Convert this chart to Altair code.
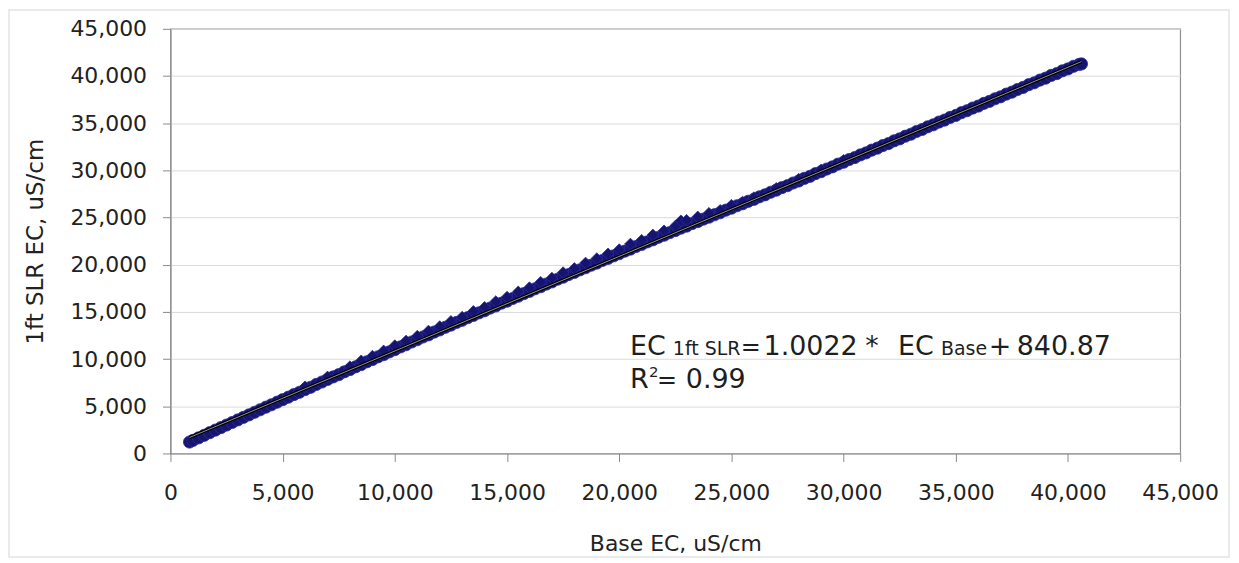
import altair as alt
import pandas as pd

# ---------------- data ----------------
base_ec = [850, 1000, 1250, 1500, 1750, 2000, 2250, 2500, 2750, 3000, 3250, 3500, 3750, 4000,
           4250, 4500, 4750, 5000, 5250, 5500, 5750, 6000, 6250, 6500, 6750, 7000, 7250, 7500,
           7750, 8000, 8250, 8500, 8750, 9000, 9250, 9500, 9750, 10000, 10250, 10500, 10750,
           11000, 11250, 11500, 11750, 12000, 12250, 12500, 12750, 13000, 13250, 13500, 13750,
           14000, 14250, 14500, 14750, 15000, 15250, 15500, 15750, 16000, 16250, 16500, 16750,
           17000, 17250, 17500, 17750, 18000, 18250, 18500, 18750, 19000, 19250, 19500, 19750,
           20000, 20250, 20500, 20750, 21000, 21250, 21500, 21750, 22000, 22250, 22500, 22750,
           23000, 23250, 23500, 23750, 24000, 24250, 24500, 24750, 25000, 25250, 25500, 25750,
           26000, 26250, 26500, 26750, 27000, 27250, 27500, 27750, 28000, 28250, 28500, 28750,
           29000, 29250, 29500, 29750, 30000, 30250, 30500, 30750, 31000, 31250, 31500, 31750,
           32000, 32250, 32500, 32750, 33000, 33250, 33500, 33750, 34000, 34250, 34500, 34750,
           35000, 35250, 35500, 35750, 36000, 36250, 36500, 36750, 37000, 37250, 37500, 37750,
           38000, 38250, 38500, 38750, 39000, 39250, 39500, 39750, 40000, 40250, 40500, 40600]
slr_ec = [1210, 1380, 1650, 1920, 2200, 2470, 2740, 3010, 3280, 3550, 3820, 4090, 4360, 4630,
          4900, 5160, 5430, 5700, 5960, 6240, 6480, 6770, 7010, 7310, 7570, 7840, 8110, 8350,
          8650, 8890, 9180, 9420, 9710, 9950, 10240, 10470, 10760, 11000, 11290, 11520, 11810,
          12050, 12340, 12570, 12860, 13090, 13370, 13600, 13880, 14110, 14390, 14620, 14900,
          15120, 15410, 15630, 15920, 16140, 16420, 16660, 16940, 17170, 17450, 17670, 17950,
          18180, 18460, 18680, 18960, 19180, 19460, 19680, 19950, 20170, 20450, 20670, 20940,
          21170, 21440, 21660, 21930, 22150, 22420, 22640, 22910, 23130, 23400, 23620, 23880,
          24090, 24360, 24570, 24830, 25040, 25300, 25510, 25780, 25990, 26250, 26460, 26720,
          26930, 27200, 27410, 27680, 27900, 28170, 28380, 28660, 28870, 29150, 29370, 29660,
          29860, 30140, 30370, 30660, 30860, 31150, 31360, 31640, 31850, 32140, 32350, 32630,
          32840, 33130, 33340, 33620, 33830, 34120, 34330, 34620, 34830, 35120, 35330, 35610,
          35820, 36110, 36320, 36600, 36810, 37100, 37310, 37590, 37800, 38080, 38290, 38570,
          38790, 39080, 39280, 39570, 39770, 40060, 40260, 40550, 40750, 41030, 41230, 41280]

# scattered high readings that form the ragged upper edge of the cloud
upper_base_ec = [6000, 7000, 8000, 8500, 9000, 9500, 10000, 10500, 11000, 11500, 12000, 12500,
                 13000, 13500, 14000, 14500, 15000, 15500, 16000, 16500, 17000, 17500, 18000,
                 18500, 19000, 19500, 20000, 20500, 21000, 21500, 22000, 22500, 22750, 23000,
                 23500, 24000, 24500, 25000, 25500, 26000, 27000, 28000, 29000, 30000]
upper_slr_ec = [7060, 8100, 9190, 9810, 10300, 10860, 11420, 11910, 12420, 12970, 13440,
                13990, 14440, 15050, 15480, 16090, 16560, 17120, 17560, 18140, 18580, 19160,
                19600, 20180, 20640, 21140, 21600, 22190, 22590, 23150, 23590, 24090, 24650,
                24710, 25060, 25450, 25750, 26300, 26640, 27100, 28080, 29060, 30040, 31060]

# linear trend line end points
trend_base = [850, 40600]
trend_slr = [1690, 41530]

axis_ticks = [0, 5000, 10000, 15000, 20000, 25000, 30000, 35000, 40000, 45000]

# equation annotation pieces: text, font size, horizontal offset (px)
eq_text = ["EC", "1ft SLR", "=", "1.0022", "*", "EC", "Base", "+", "840.87"]
eq_size = [27, 19, 24, 27, 27, 27, 19, 27, 27]
eq_dx = [0, 43, 111, 134, 236, 269, 312, 360, 388]
eq_anchor = {"x": 20480, "y": 10460}

r2_text = ["R", "2", "=", "0.99"]
r2_size = [27, 15, 24, 27]
r2_dx = [0, 19, 27, 56]
r2_dy = [0, -11, 0, 0]
r2_anchor = {"x": 20480, "y": 6980}

# ---------------- chart ----------------
AX_FONT = "DejaVu Sans"
EQ_FONT = "DejaVu Sans"

xscale = alt.Scale(domain=[0, 45000], nice=False, zero=False)
yscale = alt.Scale(domain=[0, 45000], nice=False, zero=False)

pts = pd.DataFrame({"base": base_ec, "slr": slr_ec})
up = pd.DataFrame({"base": upper_base_ec, "slr": upper_slr_ec})
trend = pd.DataFrame({"base": trend_base, "slr": trend_slr})

x_axis = alt.Axis(values=axis_ticks, format=",.0f", grid=False, title="Base EC, uS/cm",
                  labelFont=AX_FONT, labelFontSize=22, labelColor="#222222",
                  titleFont=AX_FONT, titleFontSize=22, titleFontWeight="normal",
                  titleColor="#222222", titlePadding=30, labelPadding=21,
                  tickSize=8, tickColor="#8a8a8a", domainColor="#8a8a8a",
                  labelFlush=False, labelOverlap=False)
y_axis = alt.Axis(values=axis_ticks, format=",.0f", grid=True, gridColor="#dadada",
                  title="1ft SLR EC, uS/cm",
                  labelFont=AX_FONT, labelFontSize=22, labelColor="#222222",
                  titleFont=AX_FONT, titleFontSize=23, titleFontWeight="normal",
                  titleColor="#222222", titlePadding=22, labelPadding=16,
                  tickSize=8, tickColor="#8a8a8a", domainColor="#8a8a8a",
                  labelFlush=False, labelOverlap=False)

frame = alt.Chart(pd.DataFrame({"k": [0]})).mark_rect(
    fill="transparent", stroke="#e4e4e4", strokeWidth=1.5
).encode(x=alt.value(-162), x2=alt.value(1062), y=alt.value(-19), y2=alt.value(530))

cloud = alt.Chart(pts).mark_point(
    shape="circle", filled=True, size=150, fill="#15156f", stroke="#2b2b9c",
    strokeWidth=0.8, opacity=1
).encode(
    x=alt.X("base:Q", scale=xscale, axis=x_axis),
    y=alt.Y("slr:Q", scale=yscale, axis=y_axis),
)

cloud_up = alt.Chart(up).mark_point(
    shape="diamond", filled=True, size=140, fill="#15156f", stroke="#2b2b9c",
    strokeWidth=0.8, opacity=1
).encode(
    x=alt.X("base:Q", scale=xscale),
    y=alt.Y("slr:Q", scale=yscale),
)

trend_dark = alt.Chart(trend).mark_line(color="#000000", strokeWidth=3.2).encode(
    x=alt.X("base:Q", scale=xscale), y=alt.Y("slr:Q", scale=yscale))
trend_light = alt.Chart(trend).mark_line(color="#a0a0a0", strokeWidth=0.9).encode(
    x=alt.X("base:Q", scale=xscale), y=alt.Y("slr:Q", scale=yscale))

layers = [frame, cloud, cloud_up, trend_dark, trend_light]

eq_df = pd.DataFrame([eq_anchor])
for t, s, d in zip(eq_text, eq_size, eq_dx):
    layers.append(
        alt.Chart(eq_df).mark_text(
            text=t, font=EQ_FONT, fontSize=s, align="left", baseline="alphabetic",
            dx=d, color="#1e1e1e"
        ).encode(x=alt.X("x:Q", scale=xscale), y=alt.Y("y:Q", scale=yscale))
    )

r2_df = pd.DataFrame([r2_anchor])
for t, s, d, v in zip(r2_text, r2_size, r2_dx, r2_dy):
    layers.append(
        alt.Chart(r2_df).mark_text(
            text=t, font=EQ_FONT, fontSize=s, align="left", baseline="alphabetic",
            dx=d, dy=v, color="#1e1e1e"
        ).encode(x=alt.X("x:Q", scale=xscale), y=alt.Y("y:Q", scale=yscale))
    )

chart = alt.layer(*layers).properties(
    width=1013, height=426,
    autosize=alt.AutoSizeParams(type="none"),
    padding={"left": 163, "top": 20, "right": 51, "bottom": 106},
    background="white",
).configure_view(stroke="#8f8f8f", strokeWidth=1.2)

chart.save("out.html", embed_options={"renderer": "svg", "actions": False})
